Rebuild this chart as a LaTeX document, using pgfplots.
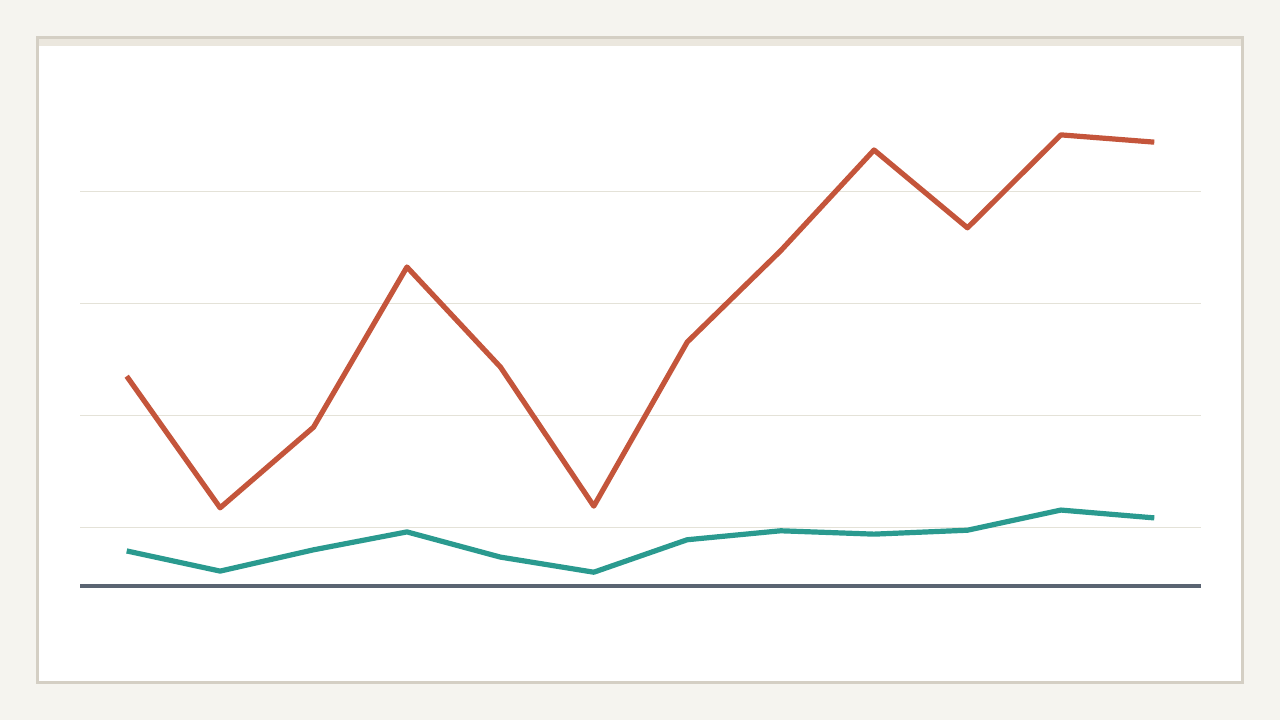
\documentclass[border=0pt]{standalone}
\usepackage{pgfplots}
\pgfplotsset{compat=1.18}
\definecolor{pagebg}{HTML}{F5F4EF}
\definecolor{cardedge}{HTML}{D4CFC4}
\definecolor{cardband}{HTML}{EBE7DE}
\definecolor{gridc}{HTML}{E4E2D8}
\definecolor{basec}{HTML}{5A6472}
\definecolor{redc}{HTML}{C4553B}
\definecolor{tealc}{HTML}{2A9A8F}
\begin{document}
\begin{tikzpicture}[x=0.75pt, y=0.75pt]
\useasboundingbox (0,0) rectangle (1280,720);
% page and card
\fill[pagebg] (0,0) rectangle (1280,720);
\fill[white] (37.5,37.5) rectangle (1242.5,682.5);
\fill[cardband] (37.5,674) rectangle (1242.5,682.5);
\draw[cardedge, line width=2.25pt] (37.5,37.5) rectangle (1242.5,682.5);
\begin{axis}[
    at={(60pt,100.5pt)}, anchor=south west,
    scale only axis,
    width=840.75pt, height=379.5pt,
    xmin=-0.5, xmax=11.5,
    ymin=9.64, ymax=100,
    axis line style={draw=none},
    xtick=\empty,
    ytick={20,40,60,80}, yticklabels={},
    major tick length=0pt,
    ymajorgrids, grid style={gridc, line width=0.75pt},
    clip=false,
]
\draw[basec, line width=2.4pt] (axis cs:-0.5,9.64) -- (axis cs:11.5,9.64);
\addplot[redc, line width=3.9pt, line join=round] coordinates {
    (0,47.1) (1,23.6) (2,38.0) (3,66.6) (4,48.75) (5,23.9)
    (6,53.2) (7,69.5) (8,87.5) (9,73.6) (10,90.2) (11,88.9)
};
\addplot[tealc, line width=3.9pt, line join=round] coordinates {
    (0,15.9) (1,12.3) (2,16.1) (3,19.3) (4,14.8) (5,12.1)
    (6,17.9) (7,19.5) (8,18.9) (9,19.6) (10,23.2) (11,21.8)
};
\end{axis}
\end{tikzpicture}
\end{document}
